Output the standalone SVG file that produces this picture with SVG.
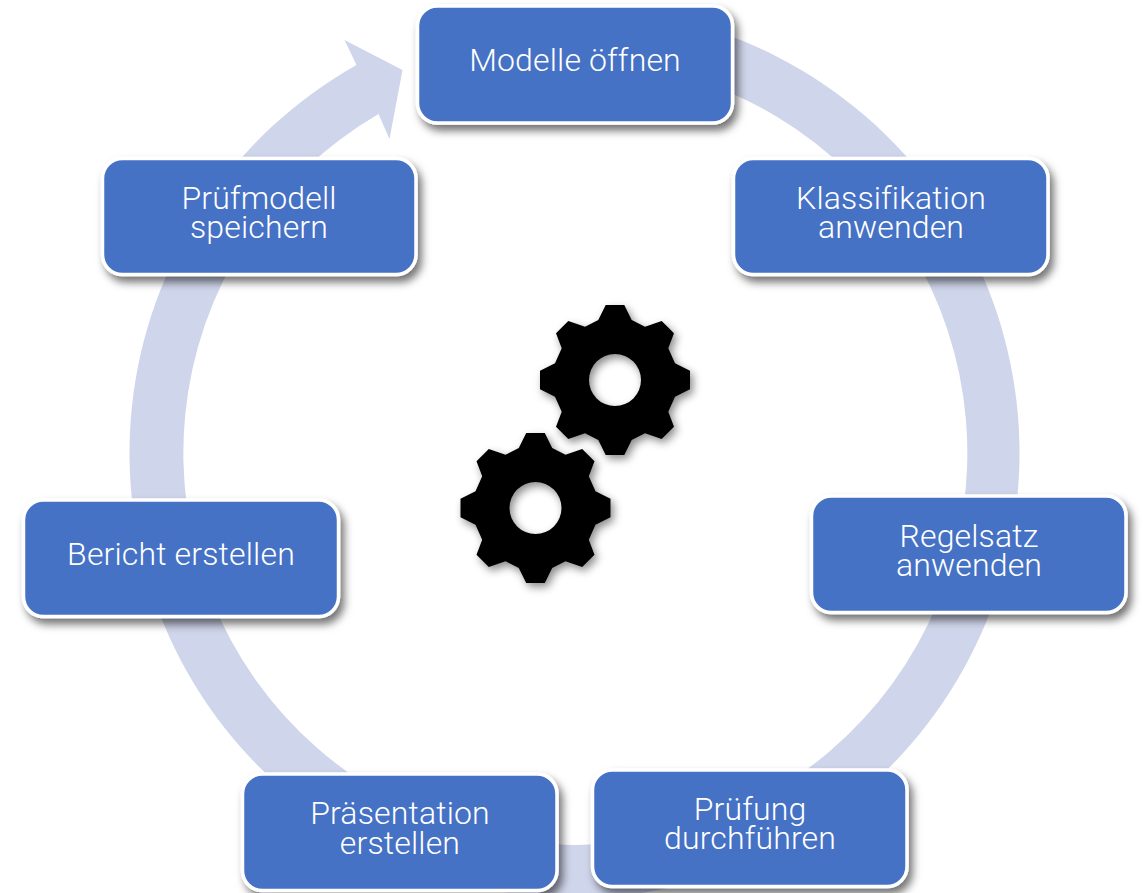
<svg xmlns="http://www.w3.org/2000/svg" width="1143" height="893" viewBox="0 0 1143 893">
<style>
.box{fill:#4472c4;stroke:#fff;stroke-width:3.5;filter:url(#sh)}
.t{font-family:Roboto,"Liberation Sans",sans-serif;font-weight:300;font-size:32px;letter-spacing:.15px;fill:#fff;text-anchor:middle}
.gear{fill:#000;fill-rule:evenodd;filter:url(#gs)}
</style>
<defs>
<filter id="sh" x="-10%" y="-15%" width="125%" height="140%"><feDropShadow dx="4" dy="6" stdDeviation="4.500" flood-color="#000" flood-opacity=".55"/></filter>
<filter id="gs" x="-10%" y="-10%" width="125%" height="125%"><feDropShadow dx="3" dy="4" stdDeviation="4" flood-color="#000" flood-opacity=".45"/></filter>
<path id="g" class="gear" d="M-9.300-75H9.300L16.700-60 30-53.300 46.700-59 59-46.700 53.300-31.700 60-16.700 75-9.300V9.300L60 16.700 53.300 31.700 59 46.700 46.700 59 30 53.300 16.700 60 9.300 75H-9.300L-16.700 60-30 53.300-46.700 59-59 46.700-53.300 31.700-60 16.700-75 9.300V-9.300L-60-16.700-53.300-31.700-59-46.700-46.700-59-30-53.300-16.700-60ZM26 0A26 26 0 1 0-26 0 26 26 0 1 0 26 0Z"/>
</defs>
<g id="connectors">
<path id="ring" fill="#cfd5ea" d="M600 8.700A445 445 0 1 1 356 65L344 40 402 70 389 139 378 114A392 392 0 1 0 600 61.800Z" transform="translate(.5 0)"/>
</g>
<g id="gears"><use href="#g" x="615" y="380"/><use href="#g" x="535.500" y="508"/></g>
<g id="n1"><rect class="box" x="417.500" y="6" width="315" height="117" rx="20"/><text class="t" x="575" y="71">Modelle öffnen</text></g>
<g id="n2"><rect class="box" x="733.500" y="158.500" width="314.500" height="116" rx="20"/><text class="t"><tspan x="891" y="209">Klassifikation</tspan><tspan x="891" y="238">anwenden</tspan></text></g>
<g id="n3"><rect class="box" x="811.500" y="496" width="314.500" height="116.500" rx="20"/><text class="t"><tspan x="969" y="547">Regelsatz</tspan><tspan x="969" y="576">anwenden</tspan></text></g>
<g id="n4"><rect class="box" x="592.500" y="770" width="314.500" height="116.500" rx="20"/><text class="t"><tspan x="750" y="820">Prüfung</tspan><tspan x="750" y="849">durchführen</tspan></text></g>
<g id="n5"><rect class="box" x="242.500" y="774" width="314.500" height="116.500" rx="20"/><text class="t"><tspan x="400" y="824">Präsentation</tspan><tspan x="400" y="854">erstellen</tspan></text></g>
<g id="n6"><rect class="box" x="23.500" y="500" width="315" height="116.500" rx="20"/><text class="t" x="181" y="565">Bericht erstellen</text></g>
<g id="n7"><rect class="box" x="102.500" y="158.500" width="313.500" height="116" rx="20"/><text class="t"><tspan x="259" y="209">Prüfmodell</tspan><tspan x="259" y="238">speichern</tspan></text></g>
</svg>
